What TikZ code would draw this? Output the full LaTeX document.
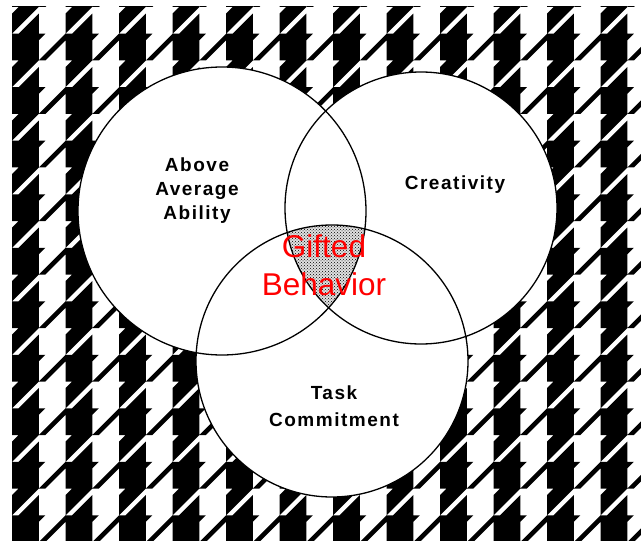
\documentclass[tikz,border=0pt]{standalone}
\usepackage{fontspec}
\setmainfont{Liberation Sans}
\newfontfamily\labelfont[LetterSpace=8]{Liberation Sans}
\usetikzlibrary{patterns}
\begin{document}
\begin{tikzpicture}[x=1pt,y=-1pt]
\tikzset{
  ring/.style={draw=black,line width=1.3pt},
  lbl/.style={font=\labelfont\bfseries\fontsize{19}{24}\selectfont,align=center,inner sep=0pt},
  gift/.style={font=\fontsize{31.5}{38}\selectfont,text=red,align=center,inner sep=0pt}
}
\useasboundingbox (0,0) rectangle (641,543);
\fill[white] (0,0) rectangle (641,543);
% houndstooth background
\begin{scope}
\clip (12,7) rectangle (641,540);
\begin{scope}[shift={(12,33.75)},scale=6.6875]
\fill[black] \foreach \i in {-1,...,12} { \foreach \j in {-1,...,10} {
  [shift={(8*\i,8*\j)}]
  (0,0) rectangle (4,4)
  (4,0) -- (5,0) -- (4,1) -- cycle
  (4,4) -- (5,4) -- (8,1) -- (8,0) -- cycle
  (1,4) -- (4,4) -- (0,8) -- (0,5) -- cycle
  (4,5) -- (4,8) -- (1,8) -- cycle
}};
\end{scope}
\end{scope}
% circles
\coordinate (cl) at (222,211);
\coordinate (cr) at (421,208);
\coordinate (cb) at (332,361);
\fill[white] (cl) circle[radius=144];
\fill[white] (cr) circle[radius=136];
\fill[white] (cb) circle[radius=136];
\begin{scope}
\clip (cl) circle[radius=144];
\clip (cr) circle[radius=136];
\fill[black!12] (cb) circle[radius=136];
\fill[pattern=crosshatch dots,pattern color=black] (cb) circle[radius=136];
\end{scope}
\draw[ring] (cl) circle[radius=144];
\draw[ring] (cr) circle[radius=136];
\draw[ring] (cb) circle[radius=136];
% labels
\node[lbl] (abl) at (197,191) {Above\\Average\\Ability};
\node[lbl] (cre) at (455,185) {Creativity};
\node[lbl,font=\labelfont\bfseries\fontsize{19}{27}\selectfont] (task) at (334,406) {Task\\Commitment};
\node[gift] (gb) at (324,265) {Gifted\\Behavior};
\end{tikzpicture}
\end{document}
